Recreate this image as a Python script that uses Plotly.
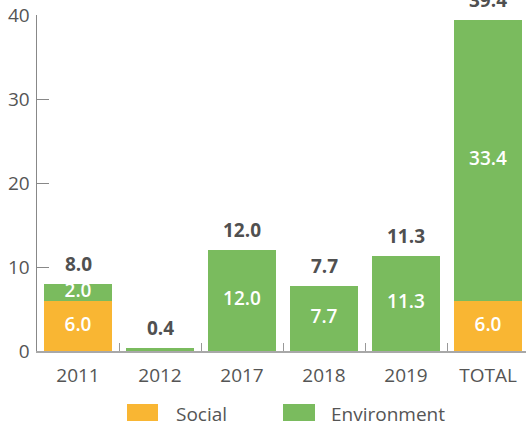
import plotly.graph_objects as go

categories = ["2011", "2012", "2017", "2018", "2019", "TOTAL"]
social = [6.0, 0, 0, 0, 0, 6.0]
environment = [2.0, 0.4, 12.0, 7.7, 11.3, 33.4]
totals = [8.0, 0.4, 12.0, 7.7, 11.3, 39.4]
social_labels = ["6.0", "", "", "", "", "6.0"]
env_labels = ["2.0", "", "12.0", "7.7", "11.3", "33.4"]
total_labels = ["8.0", "0.4", "12.0", "7.7", "11.3", "39.4"]
yticks = [0, 10, 20, 30, 40]

ORANGE = "#F9B633"
GREEN = "#7ABB5E"
FONT = "Open Sans"
GRAY = "#555555"
FS = 19

fig = go.Figure()
fig.add_trace(go.Bar(x=categories, y=social, marker=dict(color=ORANGE, line_width=0),
                     name="Social", showlegend=False, hoverinfo="skip"))
fig.add_trace(go.Bar(x=categories, y=environment, marker=dict(color=GREEN, line_width=0),
                     name="Environment", showlegend=False, hoverinfo="skip"))

# inner labels at the middle of each segment
soc_mid = [s / 2 for s in social]
env_mid = [s + e / 2 for s, e in zip(social, environment)]
fig.add_trace(go.Scatter(x=categories, y=soc_mid, mode="text", text=social_labels,
                         textfont=dict(family=FONT, size=FS, color="white", weight=600),
                         showlegend=False, hoverinfo="skip", cliponaxis=False))
fig.add_trace(go.Scatter(x=categories, y=env_mid, mode="text", text=env_labels,
                         textfont=dict(family=FONT, size=FS, color="white", weight=600),
                         showlegend=False, hoverinfo="skip", cliponaxis=False))

for i, (t, lab) in enumerate(zip(totals, total_labels)):
    fig.add_annotation(x=i, y=t, xref="x", yref="y", text=lab, showarrow=False,
                       xanchor="center", yanchor="bottom", yshift=5,
                       font=dict(family=FONT, size=FS, color="#505050", weight="bold"))

# legend drawn manually
W, H = 526, 428
L, T, B = 37, 15, 77
pw, ph = W - L, H - T - B
def px(x):
    return (x - L) / pw
def py(y):
    return (H - B - y) / ph

for x0, x1, col, label, tx in [(127, 158, ORANGE, "Social", 174), (283, 315, GREEN, "Environment", 329)]:
    fig.add_shape(type="rect", xref="paper", yref="paper", x0=px(x0), x1=px(x1),
                  y0=py(421), y1=py(404), fillcolor=col, line_width=0)
    fig.add_annotation(xref="paper", yref="paper", x=px(tx), y=py(414), text=label,
                       showarrow=False, xanchor="left", yanchor="middle",
                       font=dict(family=FONT, size=FS, color=GRAY))

fig.update_layout(
    width=W, height=H,
    margin=dict(l=L, r=0, t=T, b=B, autoexpand=False),
    barmode="stack", bargap=0.18,
    plot_bgcolor="white", paper_bgcolor="white",
    font=dict(family=FONT, size=FS, color=GRAY),
    xaxis=dict(type="category", range=[-0.5, -0.5 + pw / 82], showline=True,
               linecolor="#A8A8A8", linewidth=1.5,
               ticks="inside", tickson="boundaries", ticklen=8, tickcolor="#999999",
               tickfont=dict(family=FONT, size=FS, color=GRAY), showgrid=False,
               ticklabelstandoff=7, automargin=False, fixedrange=True),
    yaxis=dict(range=[0, 40], tickvals=yticks, showline=True, linecolor="#888888", linewidth=1.5,
               ticks="inside", ticklen=12, tickcolor="#888888", showgrid=False, zeroline=False,
               tickfont=dict(family=FONT, size=FS, color=GRAY), ticklabelstandoff=2,
               automargin=False, fixedrange=True),
)

fig.write_html("out.html", config={"displayModeBar": False, "staticPlot": True},
               post_script="document.body.style.margin='0';")
